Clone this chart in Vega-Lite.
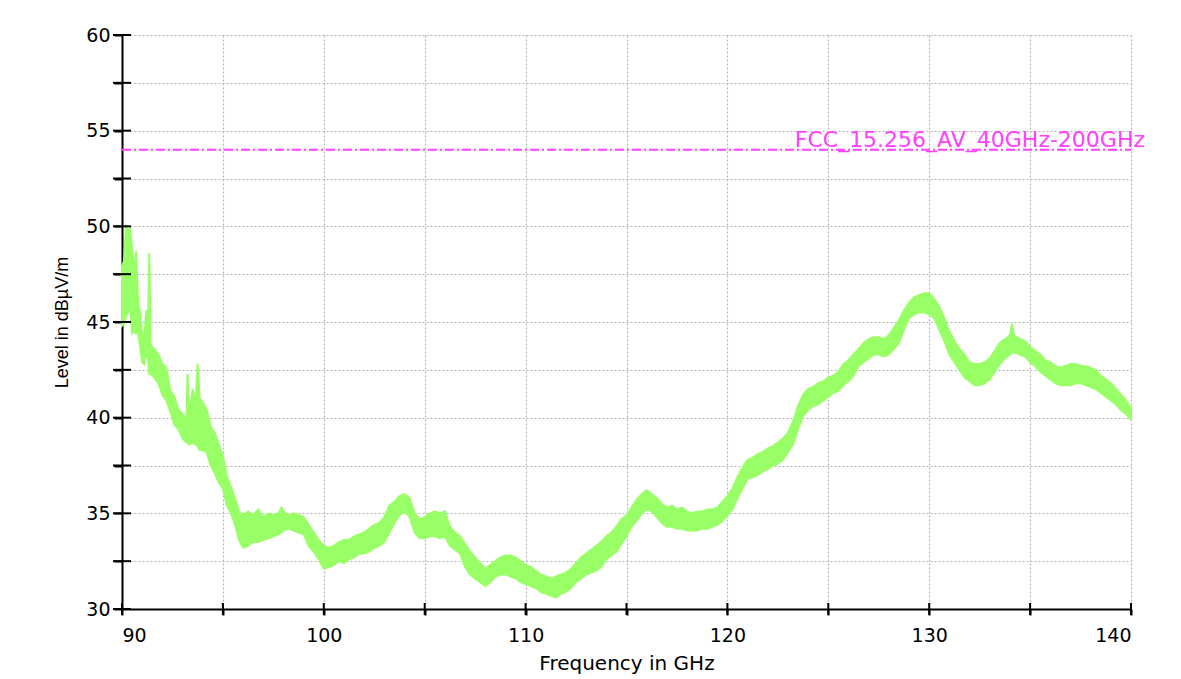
{
  "$schema": "https://vega.github.io/schema/vega-lite/v6.json",
  "width": 1009,
  "height": 574,
  "autosize": {"type": "none"},
  "padding": {"left": 122, "top": 35, "right": 50, "bottom": 70},
  "background": "white",
  "config": {
    "view": {"stroke": null},
    "font": "DejaVu Sans",
    "axis": {
      "domainColor": "black",
      "domainWidth": 2,
      "tickColor": "black",
      "tickWidth": 2,
      "gridColor": "#b4b4b4",
      "gridDash": [2, 2],
      "gridWidth": 1.2,
      "labelColor": "black",
      "titleColor": "black",
      "titleFontWeight": "normal",
      "labelFont": "DejaVu Sans",
      "titleFont": "DejaVu Sans"
    }
  },
  "datasets": {
    "band": [
      {"f": 90.0, "lo": 44.8, "hi": 47.9},
      {"f": 90.1, "lo": 44.9, "hi": 48.2},
      {"f": 90.2, "lo": 45.3, "hi": 50.0},
      {"f": 90.3, "lo": 45.5, "hi": 49.8},
      {"f": 90.4, "lo": 46.0, "hi": 49.9},
      {"f": 90.5, "lo": 44.4, "hi": 48.9},
      {"f": 90.6, "lo": 44.5, "hi": 47.6},
      {"f": 90.7, "lo": 44.4, "hi": 48.7},
      {"f": 90.8, "lo": 44.4, "hi": 46.0},
      {"f": 90.9, "lo": 43.7, "hi": 45.5},
      {"f": 91.0, "lo": 42.9, "hi": 44.3},
      {"f": 91.1, "lo": 42.8, "hi": 44.1},
      {"f": 91.2, "lo": 43.4, "hi": 45.6},
      {"f": 91.3, "lo": 43.0, "hi": 45.2},
      {"f": 91.35, "lo": 42.3, "hi": 48.6},
      {"f": 91.42, "lo": 42.3, "hi": 43.8},
      {"f": 91.6, "lo": 42.1, "hi": 43.6},
      {"f": 91.8, "lo": 41.8, "hi": 43.3},
      {"f": 92.0, "lo": 41.2, "hi": 42.8},
      {"f": 92.2, "lo": 40.9, "hi": 42.6},
      {"f": 92.4, "lo": 40.3, "hi": 41.4},
      {"f": 92.6, "lo": 39.6, "hi": 41.1},
      {"f": 92.8, "lo": 39.4, "hi": 40.4},
      {"f": 93.0, "lo": 38.9, "hi": 40.2},
      {"f": 93.2, "lo": 38.7, "hi": 39.9},
      {"f": 93.25, "lo": 38.7, "hi": 42.3},
      {"f": 93.32, "lo": 38.6, "hi": 40.0},
      {"f": 93.5, "lo": 38.7, "hi": 41.5},
      {"f": 93.65, "lo": 38.6, "hi": 40.8},
      {"f": 93.75, "lo": 38.5, "hi": 42.8},
      {"f": 93.85, "lo": 38.3, "hi": 41.0},
      {"f": 94.0, "lo": 38.3, "hi": 40.8},
      {"f": 94.2, "lo": 38.2, "hi": 40.4},
      {"f": 94.4, "lo": 37.5, "hi": 39.5},
      {"f": 94.6, "lo": 37.1, "hi": 39.2},
      {"f": 94.8, "lo": 36.6, "hi": 38.6},
      {"f": 95.0, "lo": 36.3, "hi": 38.0},
      {"f": 95.2, "lo": 35.4, "hi": 36.9},
      {"f": 95.4, "lo": 35.0, "hi": 36.4},
      {"f": 95.6, "lo": 34.4, "hi": 35.8},
      {"f": 95.8, "lo": 33.6, "hi": 35.1},
      {"f": 96.0, "lo": 33.2, "hi": 34.9},
      {"f": 96.25, "lo": 33.3, "hi": 35.1},
      {"f": 96.5, "lo": 33.5, "hi": 34.9},
      {"f": 96.75, "lo": 33.5, "hi": 35.2},
      {"f": 97.0, "lo": 33.6, "hi": 34.8},
      {"f": 97.25, "lo": 33.7, "hi": 35.0},
      {"f": 97.5, "lo": 33.8, "hi": 34.9},
      {"f": 97.75, "lo": 33.9, "hi": 35.0},
      {"f": 97.9, "lo": 34.0, "hi": 35.3},
      {"f": 98.0, "lo": 34.1, "hi": 35.1},
      {"f": 98.25, "lo": 34.2, "hi": 34.9},
      {"f": 98.5, "lo": 34.1, "hi": 35.0},
      {"f": 98.75, "lo": 34.0, "hi": 34.9},
      {"f": 99.0, "lo": 33.9, "hi": 34.8},
      {"f": 99.25, "lo": 33.3, "hi": 34.4},
      {"f": 99.5, "lo": 33.0, "hi": 34.0},
      {"f": 99.75, "lo": 32.6, "hi": 33.6},
      {"f": 100.0, "lo": 32.1, "hi": 33.3},
      {"f": 100.25, "lo": 32.2, "hi": 33.2},
      {"f": 100.5, "lo": 32.3, "hi": 33.3},
      {"f": 100.75, "lo": 32.5, "hi": 33.5},
      {"f": 101.0, "lo": 32.4, "hi": 33.6},
      {"f": 101.25, "lo": 32.6, "hi": 33.6},
      {"f": 101.5, "lo": 32.7, "hi": 33.8},
      {"f": 101.75, "lo": 32.9, "hi": 33.9},
      {"f": 102.0, "lo": 32.9, "hi": 34.0},
      {"f": 102.25, "lo": 33.0, "hi": 34.2},
      {"f": 102.5, "lo": 33.2, "hi": 34.4},
      {"f": 102.75, "lo": 33.3, "hi": 34.5},
      {"f": 103.0, "lo": 33.5, "hi": 34.8},
      {"f": 103.25, "lo": 34.0, "hi": 35.4},
      {"f": 103.5, "lo": 34.5, "hi": 35.6},
      {"f": 103.75, "lo": 34.9, "hi": 35.9},
      {"f": 104.0, "lo": 35.1, "hi": 36.0},
      {"f": 104.25, "lo": 34.8, "hi": 35.8},
      {"f": 104.5, "lo": 34.0, "hi": 35.0},
      {"f": 104.75, "lo": 33.7, "hi": 34.7},
      {"f": 105.0, "lo": 33.7, "hi": 34.8},
      {"f": 105.25, "lo": 33.8, "hi": 35.0},
      {"f": 105.5, "lo": 33.8, "hi": 35.1},
      {"f": 105.75, "lo": 33.7, "hi": 35.0},
      {"f": 106.0, "lo": 33.8, "hi": 35.1},
      {"f": 106.25, "lo": 33.3, "hi": 34.3},
      {"f": 106.5, "lo": 33.1, "hi": 34.0},
      {"f": 106.75, "lo": 32.9, "hi": 33.8},
      {"f": 107.0, "lo": 32.2, "hi": 33.4},
      {"f": 107.25, "lo": 31.8, "hi": 33.0},
      {"f": 107.5, "lo": 31.6, "hi": 32.7},
      {"f": 107.75, "lo": 31.4, "hi": 32.4},
      {"f": 108.0, "lo": 31.2, "hi": 32.1},
      {"f": 108.25, "lo": 31.4, "hi": 32.3},
      {"f": 108.5, "lo": 31.7, "hi": 32.5},
      {"f": 108.75, "lo": 31.8, "hi": 32.7},
      {"f": 109.0, "lo": 31.8, "hi": 32.8},
      {"f": 109.25, "lo": 31.7, "hi": 32.8},
      {"f": 109.5, "lo": 31.6, "hi": 32.7},
      {"f": 109.75, "lo": 31.4, "hi": 32.5},
      {"f": 110.0, "lo": 31.3, "hi": 32.3},
      {"f": 110.25, "lo": 31.2, "hi": 32.2},
      {"f": 110.5, "lo": 31.1, "hi": 32.0},
      {"f": 110.75, "lo": 30.9, "hi": 31.8},
      {"f": 111.0, "lo": 30.8, "hi": 31.7},
      {"f": 111.25, "lo": 30.7, "hi": 31.6},
      {"f": 111.5, "lo": 30.6, "hi": 31.7},
      {"f": 111.75, "lo": 30.8, "hi": 31.8},
      {"f": 112.0, "lo": 30.9, "hi": 31.9},
      {"f": 112.25, "lo": 31.1, "hi": 32.1},
      {"f": 112.5, "lo": 31.4, "hi": 32.4},
      {"f": 112.75, "lo": 31.6, "hi": 32.7},
      {"f": 113.0, "lo": 31.8, "hi": 32.9},
      {"f": 113.25, "lo": 31.9, "hi": 33.1},
      {"f": 113.5, "lo": 32.0, "hi": 33.3},
      {"f": 113.75, "lo": 32.2, "hi": 33.5},
      {"f": 114.0, "lo": 32.6, "hi": 33.8},
      {"f": 114.25, "lo": 32.8, "hi": 34.0},
      {"f": 114.5, "lo": 33.0, "hi": 34.3},
      {"f": 114.75, "lo": 33.4, "hi": 34.7},
      {"f": 115.0, "lo": 33.8, "hi": 34.9},
      {"f": 115.25, "lo": 34.3, "hi": 35.3},
      {"f": 115.5, "lo": 34.6, "hi": 35.7},
      {"f": 115.75, "lo": 35.0, "hi": 36.0},
      {"f": 116.0, "lo": 35.2, "hi": 36.2},
      {"f": 116.25, "lo": 35.1, "hi": 36.0},
      {"f": 116.5, "lo": 34.8, "hi": 35.8},
      {"f": 116.75, "lo": 34.5, "hi": 35.5},
      {"f": 117.0, "lo": 34.3, "hi": 35.3},
      {"f": 117.25, "lo": 34.3, "hi": 35.4},
      {"f": 117.5, "lo": 34.2, "hi": 35.2},
      {"f": 117.75, "lo": 34.2, "hi": 35.3},
      {"f": 118.0, "lo": 34.1, "hi": 35.1},
      {"f": 118.25, "lo": 34.1, "hi": 35.0},
      {"f": 118.5, "lo": 34.1, "hi": 35.1},
      {"f": 118.75, "lo": 34.2, "hi": 35.1},
      {"f": 119.0, "lo": 34.2, "hi": 35.2},
      {"f": 119.25, "lo": 34.3, "hi": 35.2},
      {"f": 119.5, "lo": 34.4, "hi": 35.3},
      {"f": 119.75, "lo": 34.6, "hi": 35.6},
      {"f": 120.0, "lo": 34.9, "hi": 35.9},
      {"f": 120.25, "lo": 35.2, "hi": 36.3},
      {"f": 120.5, "lo": 35.8, "hi": 36.9},
      {"f": 120.75, "lo": 36.3, "hi": 37.4},
      {"f": 121.0, "lo": 36.8, "hi": 37.8},
      {"f": 121.25, "lo": 36.9, "hi": 37.9},
      {"f": 121.5, "lo": 37.0, "hi": 38.1},
      {"f": 121.75, "lo": 37.2, "hi": 38.2},
      {"f": 122.0, "lo": 37.3, "hi": 38.4},
      {"f": 122.25, "lo": 37.5, "hi": 38.5},
      {"f": 122.5, "lo": 37.6, "hi": 38.7},
      {"f": 122.75, "lo": 37.8, "hi": 38.9},
      {"f": 123.0, "lo": 38.2, "hi": 39.2},
      {"f": 123.25, "lo": 38.6, "hi": 39.8},
      {"f": 123.5, "lo": 39.4, "hi": 40.6},
      {"f": 123.75, "lo": 40.1, "hi": 41.2},
      {"f": 124.0, "lo": 40.4, "hi": 41.5},
      {"f": 124.25, "lo": 40.6, "hi": 41.6},
      {"f": 124.5, "lo": 40.7, "hi": 41.8},
      {"f": 124.75, "lo": 40.9, "hi": 41.9},
      {"f": 125.0, "lo": 41.1, "hi": 42.1},
      {"f": 125.25, "lo": 41.3, "hi": 42.2},
      {"f": 125.5, "lo": 41.4, "hi": 42.4},
      {"f": 125.75, "lo": 41.7, "hi": 42.8},
      {"f": 126.0, "lo": 41.9, "hi": 43.0},
      {"f": 126.25, "lo": 42.2, "hi": 43.3},
      {"f": 126.5, "lo": 42.7, "hi": 43.6},
      {"f": 126.75, "lo": 42.9, "hi": 43.9},
      {"f": 127.0, "lo": 43.1, "hi": 44.1},
      {"f": 127.25, "lo": 43.3, "hi": 44.2},
      {"f": 127.5, "lo": 43.3, "hi": 44.2},
      {"f": 127.75, "lo": 43.2, "hi": 44.1},
      {"f": 128.0, "lo": 43.3, "hi": 44.3},
      {"f": 128.25, "lo": 43.6, "hi": 44.7},
      {"f": 128.5, "lo": 43.9, "hi": 45.1},
      {"f": 128.75, "lo": 44.6, "hi": 45.6},
      {"f": 129.0, "lo": 45.2, "hi": 46.0},
      {"f": 129.25, "lo": 45.4, "hi": 46.3},
      {"f": 129.5, "lo": 45.5, "hi": 46.4},
      {"f": 129.75, "lo": 45.5, "hi": 46.5},
      {"f": 130.0, "lo": 45.4, "hi": 46.5},
      {"f": 130.25, "lo": 45.2, "hi": 46.2},
      {"f": 130.5, "lo": 44.6, "hi": 45.8},
      {"f": 130.75, "lo": 44.0, "hi": 45.2},
      {"f": 131.0, "lo": 43.3, "hi": 44.5},
      {"f": 131.25, "lo": 42.9, "hi": 44.0},
      {"f": 131.5, "lo": 42.5, "hi": 43.6},
      {"f": 131.75, "lo": 42.1, "hi": 43.3},
      {"f": 132.0, "lo": 41.9, "hi": 42.9},
      {"f": 132.25, "lo": 41.7, "hi": 42.8},
      {"f": 132.5, "lo": 41.7, "hi": 42.8},
      {"f": 132.75, "lo": 41.8, "hi": 42.9},
      {"f": 133.0, "lo": 42.0, "hi": 43.1},
      {"f": 133.25, "lo": 42.4, "hi": 43.5},
      {"f": 133.5, "lo": 42.8, "hi": 43.9},
      {"f": 133.75, "lo": 43.1, "hi": 44.1},
      {"f": 134.0, "lo": 43.3, "hi": 44.3},
      {"f": 134.1, "lo": 43.4, "hi": 44.9},
      {"f": 134.2, "lo": 43.4, "hi": 44.3},
      {"f": 134.5, "lo": 43.3, "hi": 44.1},
      {"f": 134.75, "lo": 43.2, "hi": 44.0},
      {"f": 135.0, "lo": 42.9, "hi": 43.7},
      {"f": 135.25, "lo": 42.7, "hi": 43.5},
      {"f": 135.5, "lo": 42.4, "hi": 43.3},
      {"f": 135.75, "lo": 42.2, "hi": 43.0},
      {"f": 136.0, "lo": 42.0, "hi": 42.9},
      {"f": 136.25, "lo": 41.8, "hi": 42.7},
      {"f": 136.5, "lo": 41.7, "hi": 42.6},
      {"f": 136.75, "lo": 41.7, "hi": 42.7},
      {"f": 137.0, "lo": 41.7, "hi": 42.8},
      {"f": 137.25, "lo": 41.8, "hi": 42.8},
      {"f": 137.5, "lo": 41.8, "hi": 42.7},
      {"f": 137.75, "lo": 41.7, "hi": 42.7},
      {"f": 138.0, "lo": 41.6, "hi": 42.6},
      {"f": 138.25, "lo": 41.5, "hi": 42.5},
      {"f": 138.5, "lo": 41.3, "hi": 42.2},
      {"f": 138.75, "lo": 41.1, "hi": 42.0},
      {"f": 139.0, "lo": 40.9, "hi": 41.8},
      {"f": 139.25, "lo": 40.7, "hi": 41.5},
      {"f": 139.5, "lo": 40.4, "hi": 41.2},
      {"f": 139.75, "lo": 40.2, "hi": 40.9},
      {"f": 140.0, "lo": 39.9, "hi": 40.5}
    ],
    "limit": [
      {"name": "FCC_15.256_AV_40GHz-200GHz", "level": 54, "start": 90, "end": 140}
    ],
    "xticks": [
      {"t": 90}, {"t": 95}, {"t": 100}, {"t": 105}, {"t": 110}, {"t": 115},
      {"t": 120}, {"t": 125}, {"t": 130}, {"t": 135}, {"t": 140}
    ],
    "yticks": [
      {"t": 30}, {"t": 32.5}, {"t": 35}, {"t": 37.5}, {"t": 40}, {"t": 42.5}, {"t": 45},
      {"t": 47.5}, {"t": 50}, {"t": 52.5}, {"t": 55}, {"t": 57.5}, {"t": 60}
    ]
  },
  "layer": [
    {
      "data": {"name": "band"},
      "mark": {"type": "area", "color": "#99ff66", "stroke": "#99ff66", "strokeWidth": 2, "interpolate": "linear"},
      "encoding": {
        "x": {
          "field": "f", "type": "quantitative",
          "scale": {"domain": [90, 140], "nice": false, "zero": false},
          "axis": {
            "title": "Frequency in GHz",
            "values": [90, 95, 100, 105, 110, 115, 120, 125, 130, 135, 140],
            "labelExpr": "datum.value % 10 === 0 ? datum.label : ''",
            "tickSize": 6,
            "labelPadding": 11,
            "labelFontSize": 19,
            "titleFontSize": 20,
            "titlePadding": 8,
            "grid": true
          }
        },
        "y": {
          "field": "lo", "type": "quantitative",
          "scale": {"domain": [30, 60], "nice": false, "zero": false},
          "axis": {
            "title": "Level in dBµV/m",
            "titleFont": "Liberation Sans",
            "values": [30, 32.5, 35, 37.5, 40, 42.5, 45, 47.5, 50, 52.5, 55, 57.5, 60],
            "labelExpr": "datum.value % 5 === 0 ? datum.label : ''",
            "tickSize": 8,
            "labelPadding": 4,
            "labelFontSize": 19,
            "titleFontSize": 18,
            "titlePadding": 14,
            "grid": true
          }
        },
        "y2": {"field": "hi"}
      }
    },
    {
      "data": {"name": "limit"},
      "mark": {"type": "rule", "color": "#ff40ff", "strokeWidth": 2, "strokeDash": [9, 3, 2, 3]},
      "encoding": {
        "x": {"field": "start", "type": "quantitative"},
        "x2": {"field": "end"},
        "y": {"field": "level", "type": "quantitative"}
      }
    },
    {
      "data": {"name": "limit"},
      "mark": {"type": "text", "color": "#ff40ff", "fontSize": 22, "align": "right", "baseline": "alphabetic", "dx": 14, "dy": -3, "font": "DejaVu Sans"},
      "encoding": {
        "x": {"field": "end", "type": "quantitative"},
        "y": {"field": "level", "type": "quantitative"},
        "text": {"field": "name"}
      }
    },
    {
      "data": {"name": "xticks"},
      "mark": {"type": "tick", "orient": "vertical", "color": "black", "size": 12, "thickness": 2, "opacity": 1},
      "encoding": {
        "x": {"field": "t", "type": "quantitative"},
        "y": {"datum": 30, "type": "quantitative"}
      }
    },
    {
      "data": {"name": "yticks"},
      "mark": {"type": "tick", "orient": "horizontal", "color": "black", "size": 18, "thickness": 2, "opacity": 1},
      "encoding": {
        "y": {"field": "t", "type": "quantitative"},
        "x": {"datum": 90, "type": "quantitative"}
      }
    }
  ]
}
